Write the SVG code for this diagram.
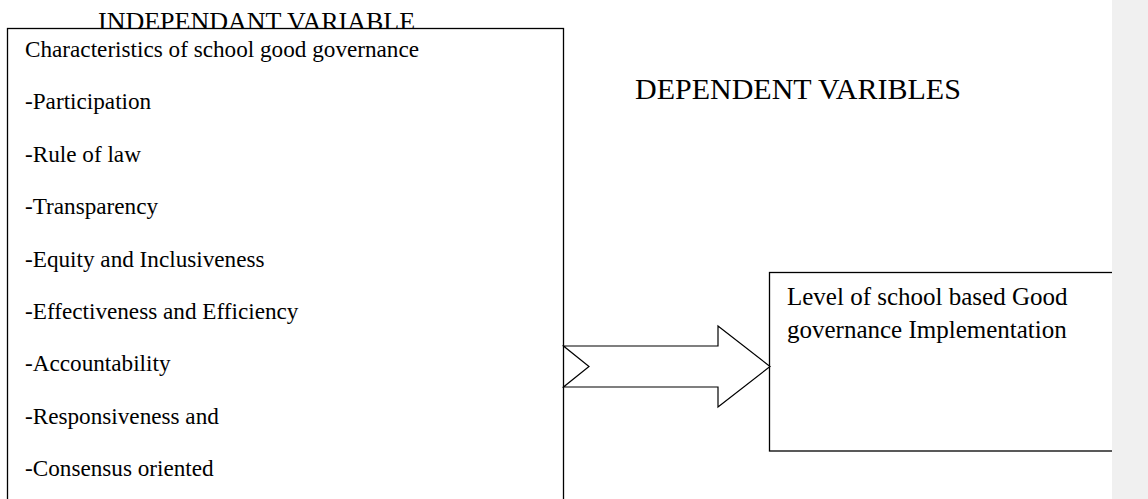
<svg xmlns="http://www.w3.org/2000/svg" width="1148" height="499" viewBox="0 0 1148 499">
<style>
  .t{font-family:"Liberation Serif","Times New Roman",serif;fill:#000}
  .body{font-size:23.2px}
  .box{fill:#fff;stroke:#000;stroke-width:1.3}
</style>
<rect x="0" y="0" width="1148" height="499" fill="#fff"/>
<g id="title-independent">
  <text class="t" x="98" y="29.5" font-size="26">INDEPENDANT VARIABLE</text>
</g>
<g id="independent-node">
  <rect class="box" x="7.5" y="28.5" width="556" height="520"/>
  <text class="t body" x="25" y="57">Characteristics of school good governance</text>
  <text class="t body" x="25" y="109.4">-Participation</text>
  <text class="t body" x="25" y="161.8">-Rule of law</text>
  <text class="t body" x="25" y="214.2">-Transparency</text>
  <text class="t body" x="25" y="266.6">-Equity and Inclusiveness</text>
  <text class="t body" x="25" y="319">-Effectiveness and Efficiency</text>
  <text class="t body" x="25" y="371.4">-Accountability</text>
  <text class="t body" x="25" y="423.8">-Responsiveness and</text>
  <text class="t body" x="25" y="476.2">-Consensus oriented</text>
</g>
<g id="title-dependent">
  <text class="t" x="635" y="99" font-size="30">DEPENDENT VARIBLES</text>
</g>
<g id="dependent-node">
  <rect class="box" x="769.5" y="272.5" width="370" height="178.5"/>
  <text class="t" x="787" y="305" font-size="25">Level of school based Good</text>
  <text class="t" x="787" y="338" font-size="25">governance Implementation</text>
</g>
<g id="connectors">
  <polygon points="563.5,346 718,346 718,326 770,366.5 718,407 718,387 563.5,387 589,366.5" fill="#fff" stroke="#000" stroke-width="1.2"/>
</g>
<rect x="1112" y="0" width="36" height="499" fill="#f0f0f0"/>
</svg>
